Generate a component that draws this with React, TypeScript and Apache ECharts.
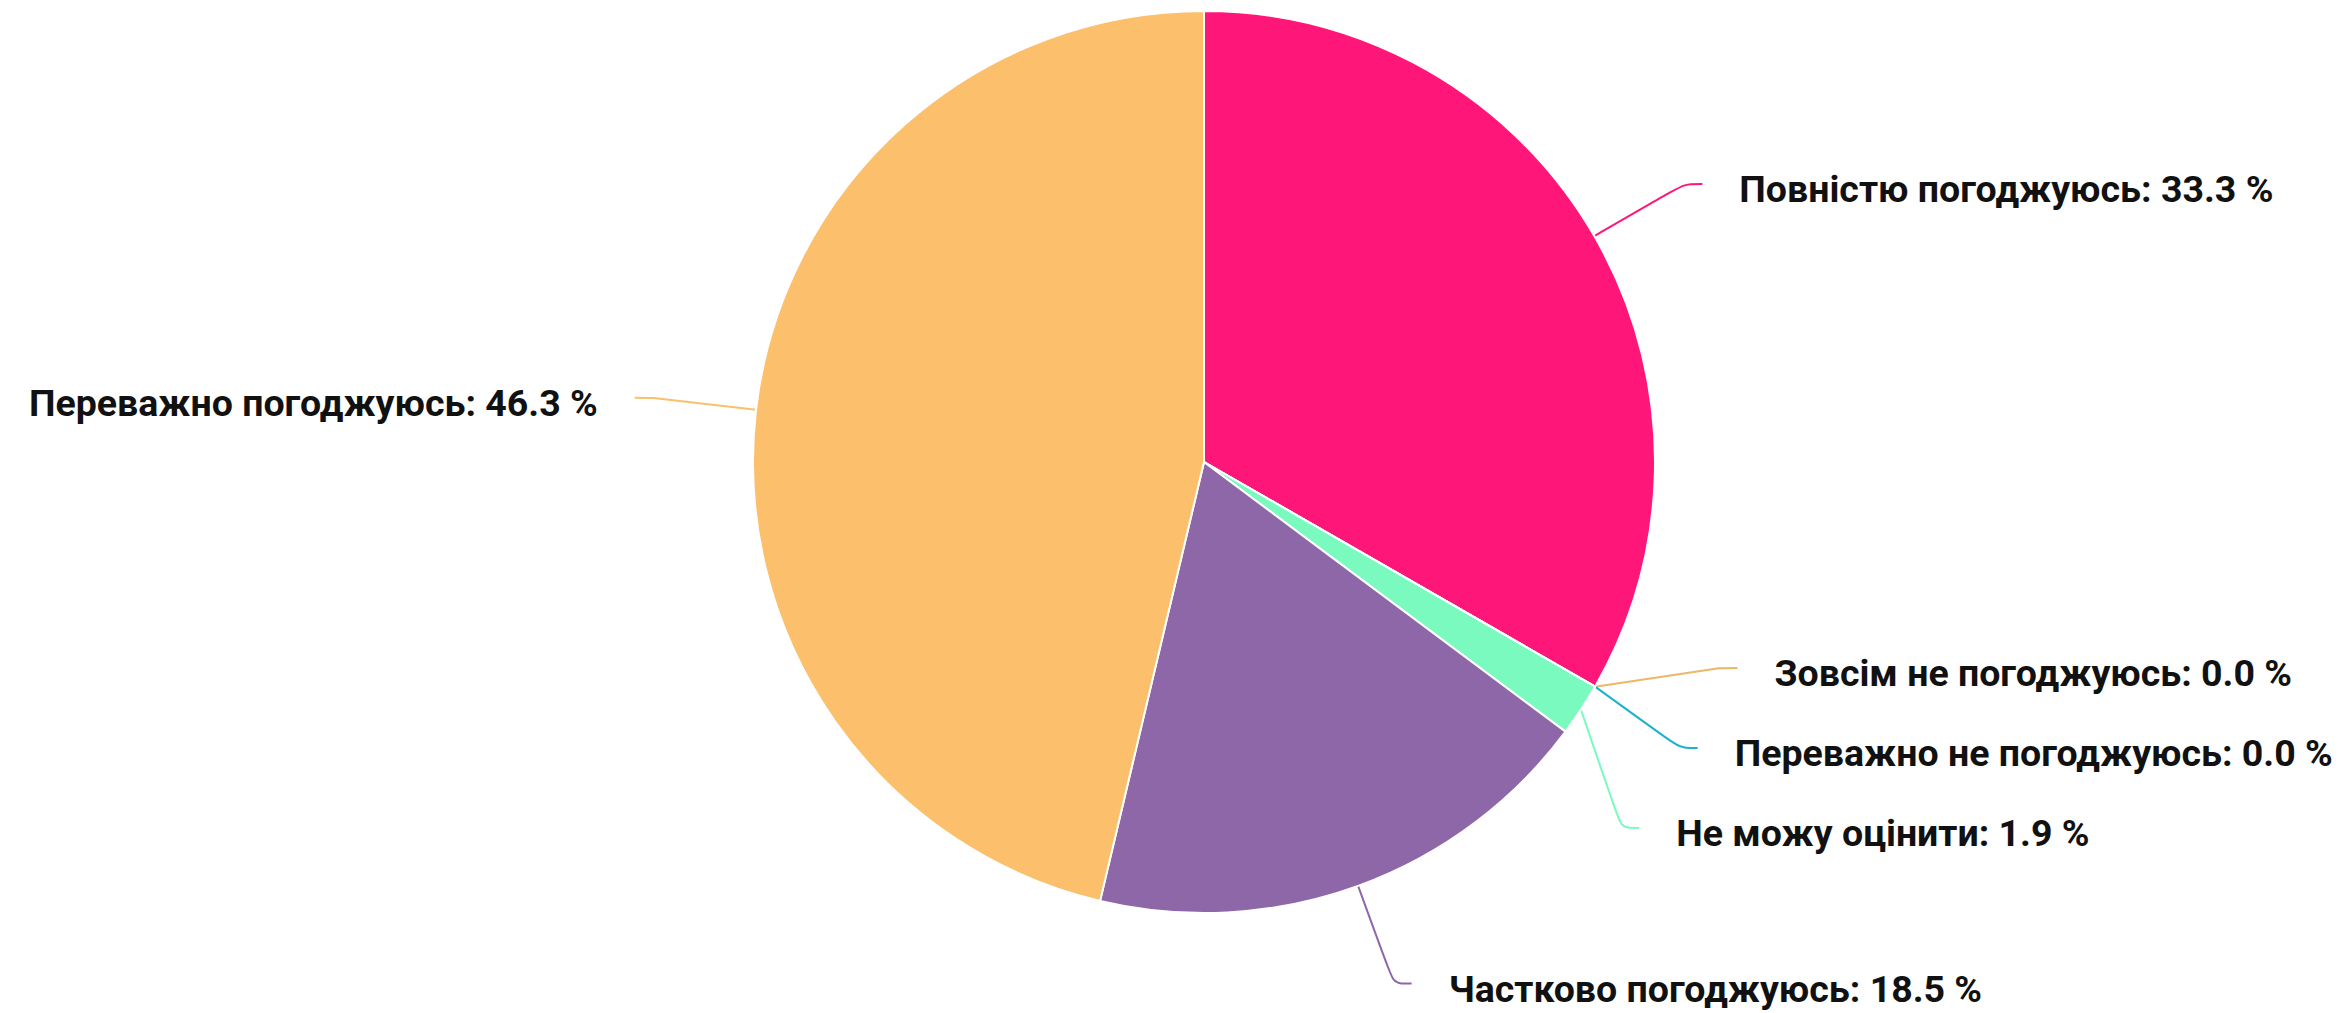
import React, { useEffect, useRef } from "react";
import * as echarts from "echarts";

const categories = [
  "Повністю погоджуюсь",
  "Зовсім не погоджуюсь",
  "Переважно не погоджуюсь",
  "Не можу оцінити",
  "Частково погоджуюсь",
  "Переважно погоджуюсь",
];
const percents = [33.3, 0.0, 0.0, 1.9, 18.5, 46.3];
const colors = ["#FF1679", "#EBB867", "#1DB2CC", "#7BFAC0", "#8E67A9", "#FCBF6B"];

const CX = 1204;
const CY = 462;
const R = 451;
const LEN = 104;
const LEN2 = 18;
const GAP = 37;
const LABEL_H = 80;
const TEXT_DY = 5;

type Item = { i: number; th: number; dir: number; ny: number; y: number };

function computeLabelLayout() {
  const total = percents.reduce((a, b) => a + b, 0);
  let cum = 0;
  const items: Item[] = percents.map((v, i) => {
    const th = ((cum + v / 2) / total) * 2 * Math.PI;
    cum += v;
    const dir = Math.sin(th) >= 0 ? 1 : -1;
    const ny = CY - (R + LEN) * Math.cos(th);
    return { i, th, dir, ny, y: ny };
  });
  [1, -1].forEach((side) => {
    const list = items.filter((it) => it.dir === side).sort((a, b) => a.ny - b.ny);
    const clusters = list.map((it) => [it]);
    const place = (c: Item[]) => {
      const mean = c.reduce((s, it) => s + it.ny, 0) / c.length;
      c.forEach((it, k) => {
        it.y = mean + (k - (c.length - 1) / 2) * LABEL_H;
      });
    };
    clusters.forEach(place);
    let merged = true;
    while (merged) {
      merged = false;
      for (let k = 0; k < clusters.length - 1; k++) {
        const a = clusters[k];
        const b = clusters[k + 1];
        if (a[a.length - 1].y + LABEL_H > b[0].y + 0.01) {
          const c = a.concat(b);
          place(c);
          clusters.splice(k, 2, c);
          merged = true;
          break;
        }
      }
    }
  });
  return items.map((it) => {
    const R1 = R + LEN;
    const dy = it.y - CY;
    const dx = Math.sqrt(Math.max(R1 * R1 - dy * dy, 0));
    const p1x = CX + it.dir * dx;
    const p2x = p1x + it.dir * LEN2;
    return {
      edge: [CX + R * Math.sin(it.th), CY - R * Math.cos(it.th)],
      pt1: [p1x, it.y],
      pt2: [p2x, it.y],
      lx: p2x + it.dir * GAP,
      y: it.y,
      align: it.dir > 0 ? "left" : "right",
    };
  });
}

export default function App() {
  const ref = useRef<HTMLDivElement>(null);
  useEffect(() => {
    if (!ref.current) return;
    const chart = echarts.init(ref.current, null, { renderer: "svg" });
    const lay = computeLabelLayout();
    chart.setOption({
      animation: false,
      backgroundColor: "#ffffff",
      series: [
        {
          type: "pie",
          center: [CX, CY],
          radius: R,
          startAngle: 90,
          clockwise: true,
          avoidLabelOverlap: false,
          itemStyle: { borderColor: "#ffffff", borderWidth: 2 },
          label: {
            show: true,
            position: "outside",
            fontFamily: "Roboto",
            fontWeight: "bold",
            fontSize: 37.5,
            color: "#111111",
            formatter: (p: any) => `${p.name}: ${Number(p.value).toFixed(1)} %`,
          },
          labelLine: {
            show: true,
            length: LEN,
            length2: LEN2,
            smooth: true,
            lineStyle: { width: 2 },
          },
          labelLayout: (p: any) => {
            const L = lay[p.dataIndex];
            return {
              x: L.lx,
              y: L.y + TEXT_DY,
              align: L.align,
              verticalAlign: "middle",
              labelLinePoints: [L.edge, L.pt1, L.pt2],
            };
          },
          data: categories.map((c, i) => ({
            name: c,
            value: percents[i],
            itemStyle: { color: colors[i] },
          })),
        },
      ],
    });
    return () => chart.dispose();
  }, []);
  return (
    <div
      ref={ref}
      style={{ position: "fixed", left: 0, top: 0, width: 2349, height: 1013 }}
    />
  );
}
